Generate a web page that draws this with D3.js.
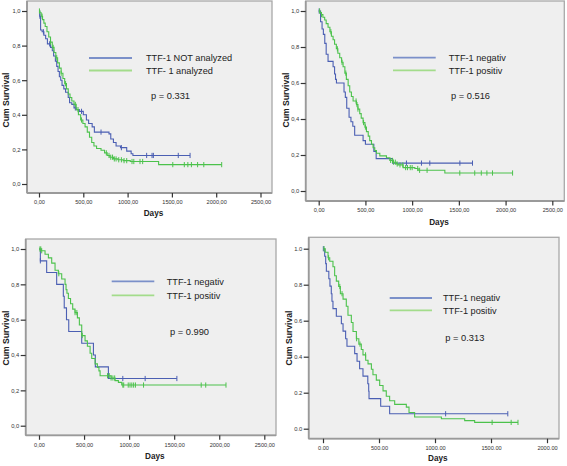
<!DOCTYPE html>
<html>
<head>
<meta charset="utf-8">
<script src="https://cdn.jsdelivr.net/npm/d3@7"></script>
<style>
html,body{margin:0;padding:0;background:#fff;}
svg{display:block;}
</style>
</head>
<body>
<svg id="chart" width="567" height="466"></svg>
<script>
// ---------- DATA (step points: [days, cumulative survival]) ----------
const legend1 = ["TTF-1 NOT analyzed", "TTF- 1 analyzed"];
const legendNP = ["TTF-1 negativ", "TTF-1 positiv"];
const pValues = ["p = 0.331", "p = 0.516", "p = 0.990", "p = 0.313"];
const yTicks = [0, 0.2, 0.4, 0.6, 0.8, 1.0];
const xTicksA = [0, 500, 1000, 1500, 2000, 2500];
const xTicksB = [0, 500, 1000, 1500, 2000];

// Panel 1
const p1Blue = [[0,1],[8,0.97],[18,0.89],[35,0.88],[55,0.86],[75,0.84],[95,0.81],[130,0.79],[150,0.77],[165,0.74],[185,0.71],[200,0.68],[215,0.65],[230,0.62],[245,0.60],[260,0.57],[280,0.55],[300,0.53],[330,0.50],[345,0.47],[370,0.46],[395,0.44],[420,0.43],[455,0.42],[500,0.40],[535,0.37],[560,0.35],[600,0.33],[625,0.30],[790,0.29],[810,0.26],[840,0.24],[870,0.22],[920,0.21],[990,0.19],[1040,0.175],[1060,0.165]];
const p1BlueCens = [10,50,120,410,480,700,930,1215,1276,1291,1572,1705];
const p1Green = [[0,1],[10,0.99],[25,0.97],[40,0.95],[55,0.93],[70,0.91],[90,0.88],[110,0.85],[130,0.82],[150,0.79],[170,0.76],[190,0.73],[210,0.70],[230,0.67],[250,0.64],[270,0.61],[290,0.58],[310,0.55],[330,0.52],[350,0.50],[370,0.48],[395,0.46],[420,0.43],[445,0.40],[470,0.37],[495,0.35],[520,0.33],[545,0.30],[570,0.27],[595,0.24],[620,0.22],[650,0.205],[700,0.195],[740,0.18],[770,0.165],[800,0.155],[840,0.145],[890,0.14],[950,0.135],[1030,0.13],[1350,0.112]];
const p1GreenCens = [5,35,130,160,200,250,300,410,440,480,760,790,810,830,850,870,900,930,960,990,1050,1070,1140,1170,1510,1640,1680,1720,1790,1860,2062];

// Panel 2
const p2Blue = [[0,1],[20,0.94],[36,0.90],[50,0.87],[65,0.82],[80,0.76],[100,0.72],[154,0.69],[170,0.65],[180,0.62],[190,0.60],[271,0.55],[285,0.52],[300,0.46],[325,0.41],[345,0.385],[365,0.36],[385,0.31],[475,0.28],[500,0.26],[590,0.22],[615,0.18],[790,0.155]];
const p2BlueCens = [5,939,1100,1189,1511,1646];
const p2Green = [[0,1],[15,0.99],[29,0.98],[45,0.965],[64,0.95],[80,0.93],[100,0.91],[120,0.885],[136,0.86],[154,0.84],[170,0.815],[189,0.79],[205,0.765],[225,0.74],[245,0.715],[261,0.69],[280,0.655],[296,0.62],[315,0.585],[332,0.55],[350,0.525],[368,0.50],[404,0.48],[420,0.455],[439,0.43],[455,0.405],[475,0.38],[495,0.355],[511,0.33],[530,0.305],[546,0.28],[565,0.26],[582,0.24],[600,0.225],[618,0.21],[654,0.195],[725,0.185],[761,0.17],[796,0.16],[830,0.15],[850,0.145],[904,0.13],[1029,0.125],[1064,0.115],[1350,0.10]];
const p2GreenCens = [10,30,130,200,250,290,400,410,420,480,500,770,790,800,820,840,870,900,930,950,980,1000,1060,1080,1160,1510,1670,1740,1800,1860,2075];

// Panel 3
const p3Blue = [[0,1],[15,0.933],[85,0.867],[196,0.80],[270,0.733],[280,0.667],[305,0.60],[330,0.533],[474,0.467],[604,0.40],[625,0.333],[770,0.267]];
const p3BlueCens = [15,930,1178,1530];
const p3Green = [[0,1],[25,0.99],[67,0.97],[104,0.95],[141,0.92],[178,0.88],[215,0.86],[252,0.83],[289,0.80],[300,0.77],[310,0.75],[326,0.72],[350,0.69],[374,0.66],[400,0.64],[426,0.61],[448,0.57],[474,0.51],[511,0.48],[537,0.45],[567,0.41],[585,0.38],[622,0.35],[648,0.33],[665,0.31],[678,0.283],[800,0.27],[844,0.255],[881,0.245],[918,0.23]];
const p3GreenCens = [10,20,30,220,400,420,480,760,780,800,820,840,930,940,990,1010,1030,1050,1070,1160,1800,1850,2075];

// Panel 4
const p4Blue = [[0,1],[15,0.958],[24,0.917],[30,0.875],[52,0.833],[62,0.792],[74,0.75],[80,0.708],[89,0.667],[119,0.625],[164,0.583],[179,0.542],[202,0.50],[214,0.458],[283,0.417],[304,0.375],[327,0.333],[357,0.292],[400,0.25],[408,0.208],[411,0.167],[515,0.125],[595,0.083]];
const p4BlueCens = [3,1095,1650];
const p4Green = [[0,1],[20,0.98],[45,0.95],[60,0.93],[89,0.90],[104,0.85],[119,0.82],[140,0.79],[155,0.75],[179,0.72],[208,0.68],[223,0.63],[253,0.59],[268,0.54],[298,0.50],[320,0.47],[342,0.44],[357,0.41],[381,0.38],[402,0.36],[432,0.33],[446,0.30],[476,0.27],[506,0.24],[536,0.21],[565,0.18],[595,0.155],[640,0.135],[744,0.12],[768,0.09],[818,0.065],[1057,0.055],[1265,0.045],[1354,0.035]];
const p4GreenCens = [10,50,150,170,300,330,380,1510,1680,1741];

// ---------- LAYOUT ----------
const BLUE = "#4b5fb3", GREEN = "#4cc24c";
const BLUE_L = "#7b90c9", GREEN_L = "#a3dc8b";

const panels = [
  {frame:{l:27,t:1,r:272,b:193}, x:[39,260.5], xMax:2500, y:[184,11], ticks:xTicksA, dec:",",
   series:[[p1Blue,p1BlueCens,BLUE],[p1Green,p1GreenCens,GREEN]], legend:legend1,
   leg:{x1:89,x2:132,y1:58,y2:70.5,tx:146}, p:{x:151,y:96,t:pValues[0]}, days:213, cum:{x:5.5,y:100}},
  {frame:{l:305.7,t:1,r:564.3,b:201}, x:[318.7,552.3], xMax:2500, y:[191,11], ticks:xTicksA, dec:",",
   series:[[p2Blue,p2BlueCens,BLUE],[p2Green,p2GreenCens,GREEN]], legend:legendNP,
   leg:{x1:393,x2:435.7,y1:57.7,y2:70.3,tx:448.7}, p:{x:451,y:96,t:pValues[1]}, days:221.7, cum:{x:286,y:100}},
  {frame:{l:25.7,t:239,r:276,b:435.3}, x:[39,264.3], xMax:2500, y:[425.7,249], ticks:xTicksA, dec:",",
   series:[[p3Blue,p3BlueCens,BLUE],[p3Green,p3GreenCens,GREEN]], legend:legendNP,
   leg:{x1:111.7,x2:154.3,y1:281.3,y2:295.3,tx:166.7}, p:{x:170,y:331.3,t:pValues[2]}, days:456.3, cum:{x:5.5,y:338}},
  {frame:{l:308.7,t:237.3,r:559,b:438.7}, x:[323,547], xMax:2000, y:[428.7,248.7], ticks:xTicksB, dec:".",
   series:[[p4Blue,p4BlueCens,BLUE],[p4Green,p4GreenCens,GREEN]], legend:legendNP,
   leg:{x1:389.7,x2:432,y1:298,y2:310.3,tx:443}, p:{x:445.3,y:337.3,t:pValues[3]}, days:458, cum:{x:288.5,y:338}}
];

const svg = d3.select("#chart");
const FONT = "'Liberation Sans', Arial, sans-serif";

panels.forEach(P => {
  const g = svg.append("g");
  const f = P.frame;
  const x = d3.scaleLinear().domain([0, P.xMax]).range(P.x);
  const y = d3.scaleLinear().domain([0, 1]).range(P.y);

  // plot background and frame
  g.append("rect").attr("x", f.l).attr("y", f.t).attr("width", f.r - f.l).attr("height", f.b - f.t)
    .attr("fill", "#efefef").attr("stroke", "#a8a8a8").attr("stroke-width", 1.3);
  // left & bottom axis lines (slightly darker)
  g.append("line").attr("x1", f.l).attr("x2", f.l).attr("y1", f.t).attr("y2", f.b).attr("stroke", "#9a9a9a").attr("stroke-width", 1.8);
  g.append("line").attr("x1", f.l).attr("x2", f.r).attr("y1", f.b).attr("y2", f.b).attr("stroke", "#9a9a9a").attr("stroke-width", 1.8);

  // y axis
  const yAxis = d3.axisLeft(y).tickValues(yTicks).tickSize(5).tickPadding(1.5)
    .tickFormat(d => d3.format(".1f")(d).replace(".", P.dec));
  const ya = g.append("g").attr("transform", `translate(${f.l},0)`).call(yAxis);
  ya.select(".domain").remove();
  ya.selectAll(".tick line").attr("stroke", "#333").attr("stroke-width", 1.2);
  ya.selectAll(".tick text").attr("font-family", FONT).attr("font-size", 5.8).attr("fill", "#333");

  // x axis
  const xAxis = d3.axisBottom(x).tickValues(P.ticks).tickSize(4.5).tickPadding(3)
    .tickFormat(d => d3.format(".2f")(d).replace(".", P.dec));
  const xa = g.append("g").attr("transform", `translate(0,${f.b})`).call(xAxis);
  xa.select(".domain").remove();
  xa.selectAll(".tick line").attr("stroke", "#333").attr("stroke-width", 1.2);
  xa.selectAll(".tick text").attr("font-family", FONT).attr("font-size", 5.6).attr("fill", "#333");

  // axis titles
  g.append("text").attr("x", (f.l + f.r) / 2 + 4).attr("y", P.days + 3)
    .attr("text-anchor", "middle").attr("font-family", FONT).attr("font-weight", "bold")
    .attr("font-size", 8.2).attr("fill", "#222").text("Days");
  g.append("text").attr("transform", `translate(${P.cum.x + 3},${P.cum.y}) rotate(-90)`)
    .attr("text-anchor", "middle").attr("font-family", FONT).attr("font-weight", "bold")
    .attr("font-size", 8.6).attr("fill", "#222").text("Cum Survival");

  // survival curves
  P.series.forEach(([steps, cens, col]) => {
    const end = Math.max(d3.max(cens), d3.max(steps, d => d[0]));
    const pts = steps.concat([[end, steps[steps.length - 1][1]]]);
    const line = d3.line().x(d => x(d[0])).y(d => y(d[1])).curve(d3.curveStepAfter);
    g.append("path").datum(pts).attr("d", line).attr("fill", "none")
      .attr("stroke", col).attr("stroke-width", 1.1);
    const bis = d3.bisector(d => d[0]).right;
    const survAt = t => steps[Math.max(0, bis(steps, t) - 1)][1];
    g.selectAll(null).data(cens).join("line")
      .attr("x1", d => x(d)).attr("x2", d => x(d))
      .attr("y1", d => y(survAt(d)) - 2.6).attr("y2", d => y(survAt(d)) + 2.6)
      .attr("stroke", col).attr("stroke-width", 1);
  });

  // legend
  const L = P.leg;
  g.append("line").attr("x1", L.x1).attr("x2", L.x2).attr("y1", L.y1).attr("y2", L.y1)
    .attr("stroke", BLUE_L).attr("stroke-width", 1.8);
  g.append("line").attr("x1", L.x1).attr("x2", L.x2).attr("y1", L.y2).attr("y2", L.y2)
    .attr("stroke", GREEN_L).attr("stroke-width", 1.8);
  g.append("text").attr("x", L.tx).attr("y", L.y1 + 3.3).attr("font-family", FONT)
    .attr("font-size", 9.2).attr("fill", "#222").text(P.legend[0]);
  g.append("text").attr("x", L.tx).attr("y", L.y2 + 3.3).attr("font-family", FONT)
    .attr("font-size", 9.2).attr("fill", "#222").text(P.legend[1]);
  g.append("text").attr("x", P.p.x).attr("y", P.p.y + 3.3).attr("font-family", FONT)
    .attr("font-size", 9.3).attr("fill", "#222").text(P.p.t);
});
</script>
</body>
</html>
